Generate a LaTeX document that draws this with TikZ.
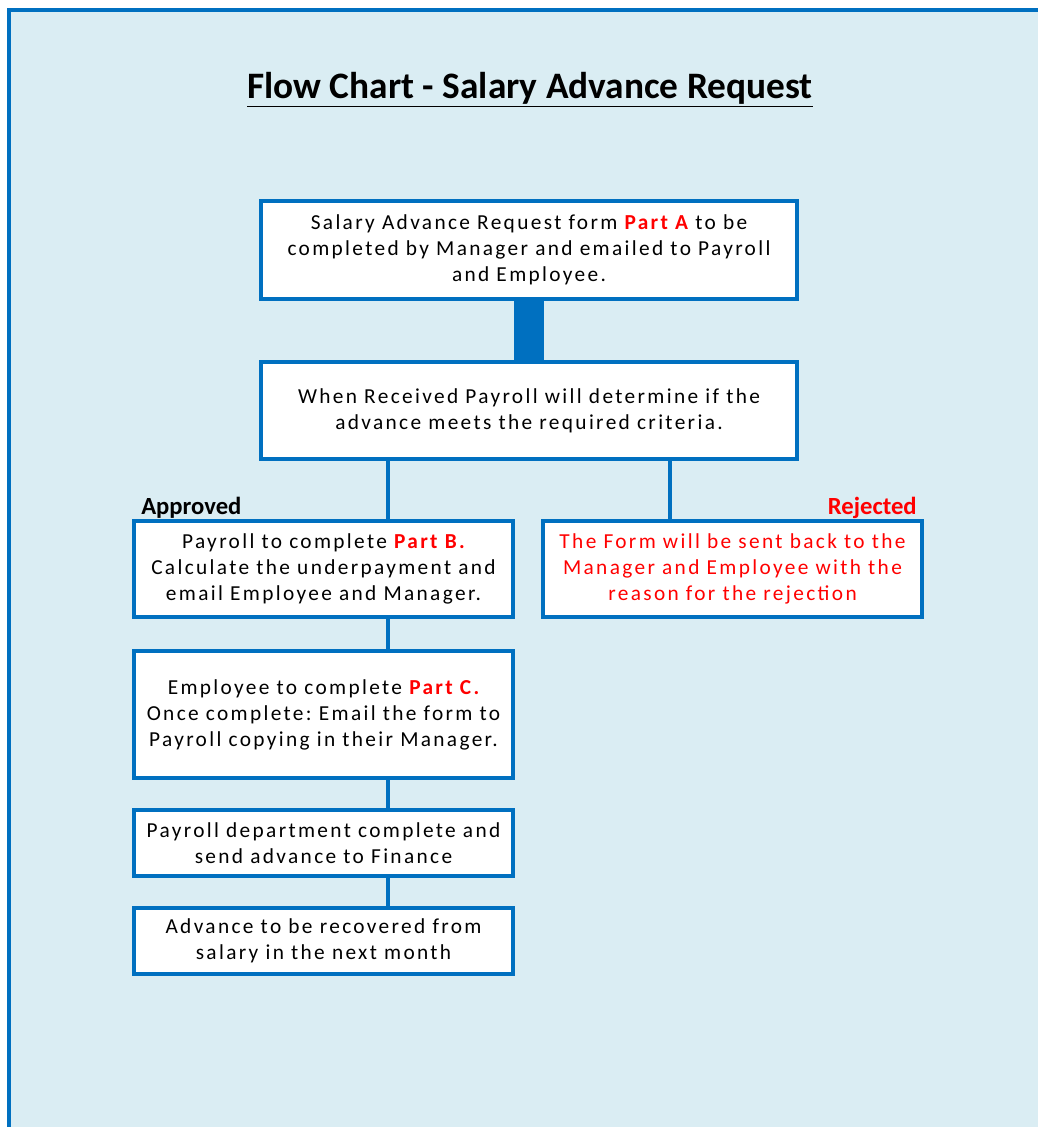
\documentclass[tikz,border=0pt]{standalone}
\usepackage{fontspec}
\setmainfont{Carlito}
\newfontfamily\spcfont[LetterSpace=11]{Carlito}
\frenchspacing
\definecolor{bgblue}{HTML}{DAEDF3}
\definecolor{lineblue}{HTML}{0070C0}
\definecolor{redtxt}{HTML}{FF0000}
\tikzset{
  box/.style={draw=lineblue, line width=2.6pt, fill=white, align=center, inner sep=0pt,
    font=\spcfont\fontsize{16}{19.5}\selectfont},
  link/.style={draw=lineblue, line width=3pt},
  lbl/.style={font=\bfseries\fontsize{18.5}{20}\selectfont, inner sep=0pt}
}
\begin{document}
\begin{tikzpicture}[x=0.75pt,y=-0.75pt]
\useasboundingbox (0,0) rectangle (1038,1127);
\fill[white] (0,0) rectangle (1038,1127);
\fill[bgblue] (8,9) rectangle (1038,1127);
\draw[lineblue, line width=3pt] (8.5,1127) -- (8.5,10) -- (1038,10);

\node[font=\bfseries\fontsize{28}{32}\selectfont, inner sep=0pt] (title) at (530,90) {\underline{Flow Chart - Salary Advance Request}};

\node[box, minimum width=536*0.75pt, minimum height=98*0.75pt] (b1) at (529,250)
  {Salary Advance Request form {\bfseries\color{redtxt}Part A} to be\\completed by Manager and emailed to Payroll\\and Employee.};
\node[box, minimum width=536*0.75pt, minimum height=97*0.75pt] (b2) at (529,410.5)
  {When Received Payroll will determine if the\\advance meets the required criteria.};
\node[box, minimum width=379*0.75pt, minimum height=96*0.75pt] (b3) at (323.5,569)
  {Payroll to complete {\bfseries\color{redtxt}Part B.}\\Calculate the underpayment and\\email Employee and Manager.};
\node[box, minimum width=379*0.75pt, minimum height=96*0.75pt, text=redtxt] (b4) at (732.5,569)
  {The Form will be sent back to the\\Manager and Employee with the\\reason for the rejection};
\node[box, minimum width=379*0.75pt, minimum height=127*0.75pt] (b5) at (323.5,714.5)
  {Employee to complete {\bfseries\color{redtxt}Part C.}\\Once complete: Email the form to\\Payroll copying in their Manager.};
\node[box, minimum width=379*0.75pt, minimum height=66*0.75pt] (b6) at (323.5,843)
  {Payroll department complete and\\send advance to Finance};
\node[box, minimum width=379*0.75pt, minimum height=66*0.75pt] (b7) at (323.5,941)
  {Advance to be recovered from\\salary in the next month};

\node[lbl, anchor=west] (appr) at (141,508) {Approved};
\node[lbl, anchor=east, text=redtxt] (rej) at (917,508) {Rejected};

\coordinate (jl) at (388,0);
\coordinate (jr) at (670,0);
\draw[lineblue, line width=23pt] (b1.south) -- (b2.north);
\draw[link] (b2.south -| jl) -- (b3.north -| jl);
\draw[link] (b2.south -| jr) -- (b4.north -| jr);
\draw[link] (b3.south -| jl) -- (b5.north -| jl);
\draw[link] (b5.south -| jl) -- (b6.north -| jl);
\draw[link] (b6.south -| jl) -- (b7.north -| jl);
\end{tikzpicture}
\end{document}
